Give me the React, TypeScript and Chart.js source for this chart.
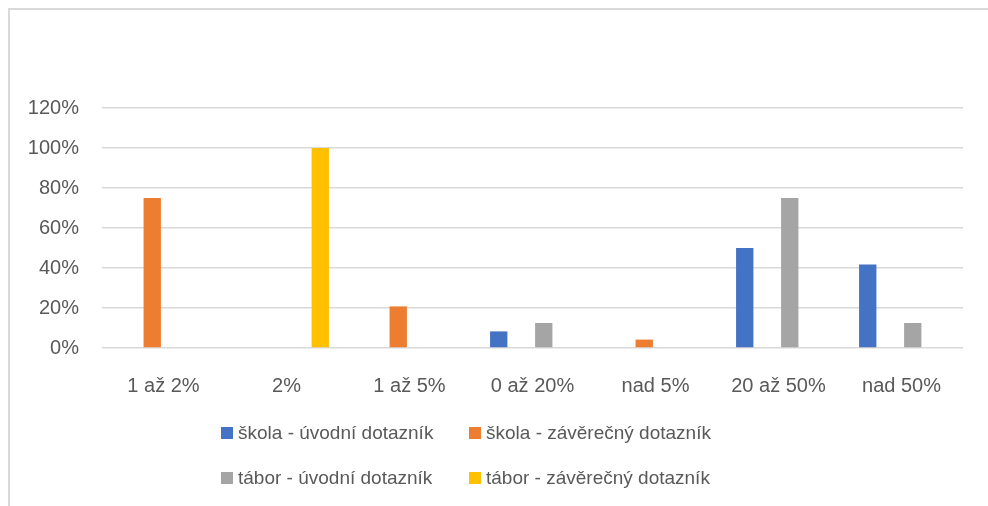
import React, { useEffect, useRef } from "react";
import { Chart, registerables } from "chart.js";

Chart.register(...registerables);

const categories = ["1 až 2%", "2%", "1 až 5%", "0 až 20%", "nad 5%", "20 až 50%", "nad 50%"];
const seriesNames = [
  "škola - úvodní dotazník",
  "škola - závěrečný dotazník",
  "tábor - úvodní dotazník",
  "tábor - závěrečný dotazník",
];
const skolaUvodni = [0, 0, 0, 8.3, 0, 50, 41.7];
const skolaZaverecny = [75, 0, 20.8, 0, 4.2, 0, 0];
const taborUvodni = [0, 0, 0, 12.5, 0, 75, 12.5];
const taborZaverecny = [0, 100, 0, 0, 0, 0, 0];
const seriesColors = ["#4472C4", "#ED7D31", "#A5A5A5", "#FFC000"];
const yTicks = [0, 20, 40, 60, 80, 100, 120];

const FONT = "'Liberation Sans', Arial, sans-serif";
const TEXT = "#595959";

const legendPlugin = {
  id: "gridLegend",
  afterDraw(chart: any) {
    const ctx = chart.ctx;
    const colX = [211, 459];
    const rowY = [423, 468];
    const box = 12;
    ctx.save();
    ctx.font = `19px ${FONT}`;
    ctx.textBaseline = "middle";
    ctx.textAlign = "left";
    chart.data.datasets.forEach((ds: any, i: number) => {
      const x = colX[i % 2];
      const y = rowY[Math.floor(i / 2)];
      ctx.fillStyle = ds.backgroundColor;
      ctx.fillRect(x, y - box / 2, box, box);
      ctx.fillStyle = TEXT;
      ctx.fillText(ds.label, x + box + 5, y + 1);
    });
    ctx.restore();
  },
};

export default function App() {
  const ref = useRef<HTMLCanvasElement>(null);
  useEffect(() => {
    if (!ref.current) return;
    const data = [skolaUvodni, skolaZaverecny, taborUvodni, taborZaverecny];
    const chart = new Chart(ref.current, {
      type: "bar",
      data: {
        labels: categories,
        datasets: data.map((d, i) => ({
          label: seriesNames[i],
          data: d,
          backgroundColor: seriesColors[i],
          borderWidth: 0,
          barPercentage: 0.77,
          categoryPercentage: 0.732,
        })),
      },
      options: {
        responsive: false,
        animation: false,
        layout: { padding: { top: 98, left: 0, right: 25, bottom: 98 } },
        plugins: { legend: { display: false }, tooltip: { enabled: false } },
        scales: {
          x: {
            grid: { display: false },
            border: { display: false },
            ticks: { color: TEXT, font: { family: FONT, size: 20 }, padding: 18, maxRotation: 0 },
            afterFit: (s: any) => {
              s.height = 60;
            },
          },
          y: {
            min: 0,
            max: 120,
            afterBuildTicks: (s: any) => {
              s.ticks = yTicks.map((v) => ({ value: v }));
            },
            grid: { color: "#d9d9d9", lineWidth: 1.5, drawTicks: false },
            border: { display: false },
            ticks: {
              color: TEXT,
              font: { family: FONT, size: 20 },
              padding: 23,
              callback: (v: any) => `${v}%`,
            },
            afterFit: (s: any) => {
              s.width = 92;
            },
          },
        },
      },
      plugins: [legendPlugin],
    });
    return () => chart.destroy();
  }, []);
  return (
    <div
      style={{
        position: "fixed",
        left: 8,
        top: 8,
        width: 978,
        height: 496,
        borderTop: "2px solid #d9d9d9",
        borderLeft: "2px solid #d9d9d9",
        background: "#fff",
      }}
    >
      <canvas ref={ref} width={978} height={496} style={{ display: "block", width: 978, height: 496 }} />
    </div>
  );
}
